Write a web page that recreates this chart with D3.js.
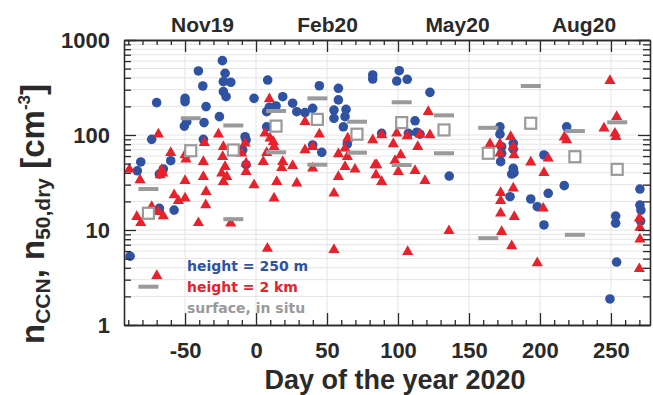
<!DOCTYPE html>
<html>
<head>
<meta charset="utf-8">
<script src="https://cdn.jsdelivr.net/npm/d3@7"></script>
<style>
  html, body { margin: 0; padding: 0; background: #fff; }
  svg { display: block; }
</style>
</head>
<body>
<svg id="chart" width="653" height="395"></svg>
<script>
// Daily values [day of year 2020, concentration cm^-3]
const height250m = [
  [-70,219],[-50,243],[-50,224],[-40.6,472],[-37.5,328],[-35.2,199],[-23.7,606],[-21.8,446],
  [-23,364],[-17.8,359],[-23,286],[-21.1,253],[-25.8,156],[-50.5,124],[-48.8,138],[-36.6,135],
  [-73.5,90],[-81.2,52],[-83.6,42],[-68.1,38.8],[-65.3,43.9],[-60.1,53.6],[-37.1,90],[-7.7,96],
  [-7,88.6],[-9.4,69.5],[-7,48.7],[-1.4,243],[8.2,379],[7.5,176],[9.4,196],[14.1,202],[7.5,122],
  [18.8,253],[25.8,216],[28.7,176],[34.5,172],[39.9,191],[44.6,330],[39.9,78.5],[46.3,65.7],
  [58,310],[58,234],[54.9,183],[54.9,150],[63.4,186],[62.7,156],[61.5,122],[64.3,80.4],
  [82.2,428],[82.2,388],[88.5,104],[100.9,475],[99.1,370],[106.5,386],[122.5,281],[112,141],
  [107.3,104],[113.2,107],[115.5,102],[136.1,37],[171.8,122],[171.8,102],[173,75.3],[173,64.2],
  [172.3,52.4],[181.2,81.8],[181.2,71.2],[181.2,44.6],[181.7,40.1],[180.1,38.8],[178.9,22.4],
  [193.5,21.2],[202.8,61.6],[205.8,24.3],[217.1,29.3],[218.8,122],[270.4,27],[198.1,17.6],
  [202.8,11.3],[253.3,14],[253.3,11.8],[254,4.6],[249.3,1.88],[270.4,18.3],[271.1,16.2],
  [270.9,12.4],[-68.1,16.9],[-57.7,16.2],[-88.7,5.3]
];
const height2km = [
  [-89.2,43.5],[-81.7,33.6],[-68.8,102],[-66.4,42.8],[-65.7,39.5],[-67.6,37.9],[-60.1,65.1],
  [-50,61.6],[-49.3,55.5],[-50,33],[-57.7,23.4],[-37.1,52.4],[-36.4,83],[-37.1,36.4],[-35.2,25.3],
  [-26.5,102],[-23,75.3],[-23.5,59.1],[-21.8,46.4],[-24.2,39.5],[-20.6,36.4],[-23,32.2],
  [-7.7,81.8],[-10.1,64.2],[-7,50.4],[-7,41.1],[-1.4,29.8],[9.4,239],[6.3,104],[9.9,92.3],
  [12.2,85],[12.7,75.3],[7.5,65.1],[5.1,52.4],[18.8,52.4],[18.1,45.3],[14.6,32.2],[12.7,21.6],
  [25.8,47.5],[28.7,31],[34.5,138],[34.5,69.5],[39.9,75.3],[44.6,102],[39.9,44.6],[54.9,24.3],
  [58,63.1],[58,36.4],[62.7,72.4],[64.6,92.3],[62.7,46.4],[64.3,59.1],[69.7,43.5],[82.2,88.6],
  [83.8,48.3],[85,48.3],[84.5,37.9],[88.5,32.2],[88.5,100],[-54.7,20.3],[-50,21.6],
  [-35.4,18.3],[-73.5,17.6],[-84,13.8],[-81.2,11.9],[-68.8,15.6],[-65.3,14],[-40.6,11.9],
  [-17.8,11.8],[8,6.4],[54.9,6.2],[-69.9,3.3],[96.7,80.4],[99.1,104],[106.5,97.6],[115.5,102],
  [113.9,75.3],[122.5,100],[121.3,176],[101.9,61.6],[97.9,53.6],[100.2,41.1],[112,42.1],
  [119,33],[164.8,80.4],[171.8,80.4],[171.8,64.2],[179.4,96],[181.2,75.3],[181.7,61.6],
  [193.5,51.6],[205.8,56.8],[202.8,40.1],[217.1,94.6],[218.8,88.6],[172.3,24.7],[181.2,27.5],
  [249.3,373],[254,156],[245.1,118],[252.8,104],[253.5,96],[172.3,20.3],[172.3,15],
  [181.9,13.8],[202.3,16.9],[173,9.6],[180.1,6.8],[135.9,9.8],[106.8,5.9],[198.1,4.5],
  [270,13.3],[270.4,10.6],[270.4,8],[270,3.9]
];
// Surface in-situ: monthly range bounds and monthly central values
const surfaceRange = [
  [-75.8,27],[-75.8,2.53],[-46,150],[-16,126],[-16,13],[14.1,179],[14.1,65.7],[43.2,243],
  [43.2,48.7],[71.1,138],[71.1,65.1],[102.6,221],[102.6,48.3],[132.4,161],[132.4,64.2],
  [163.6,119],[163.6,8.2],[193.5,328],[224.6,110],[224.6,8.9],[254.4,136]
];
const surfaceMonthly = [
  [-75.8,15],[-46,68.3],[-16,69.5],[14.1,124],[43.2,146],[71.1,102],[102.6,135],[132.4,113],
  [163.6,64.2],[193.5,133],[224.6,59.1],[254.4,43.5]
];
const xTickValues = [-50, 0, 50, 100, 150, 200, 250];
const yTickValues = [1, 10, 100, 1000];
const monthLabels = [["Nov19",-37.7],["Feb20",50.4],["May20",141.9],["Aug20",231]];
const legendItems = [
  ["height = 250 m", "#2f52a3"],
  ["height = 2 km", "#e8212b"],
  ["surface, in situ", "#9a9a9a"]
];

const svg = d3.select("#chart");
const x = d3.scaleLinear().domain([-93, 277.5]).range([124, 650]);
const y = d3.scaleLog().domain([1, 1000]).range([325, 40]);
const [x0, x1] = x.range();
const [yB, yT] = y.range();

const minorX = d3.range(-90, 278, 10).filter(d => d % 50 !== 0);
const minorY = [];
[1, 10, 100].forEach(dec => { for (let k = 2; k <= 9; k++) minorY.push(dec * k); });

const axisFont = "'Liberation Sans', Arial, Helvetica, sans-serif";
const ink = "#2a2a2a";

// grid
const grid = svg.append("g").attr("stroke", "#e4e4e4").attr("stroke-width", 1);
grid.selectAll("line.h").data(minorY.concat(yTickValues)).join("line")
  .attr("x1", x0).attr("x2", x1).attr("y1", d => y(d)).attr("y2", d => y(d));
grid.selectAll("line.v").data(xTickValues).join("line")
  .attr("y1", yT).attr("y2", yB).attr("x1", d => x(d)).attr("x2", d => x(d));

// markers
svg.append("g").selectAll("circle").data(height250m).join("circle")
  .attr("cx", d => x(d[0])).attr("cy", d => y(d[1])).attr("r", 4.8)
  .attr("fill", "#2f52a3");

const tri = d3.symbol().type(d3.symbolTriangle).size(54);
svg.append("g").selectAll("path").data(height2km).join("path")
  .attr("d", tri)
  .attr("transform", d => `translate(${x(d[0])},${y(d[1])})`)
  .attr("fill", "#e8212b");

svg.append("g").selectAll("rect").data(surfaceRange).join("rect")
  .attr("x", d => x(d[0]) - 10).attr("y", d => y(d[1]) - 2)
  .attr("width", 20).attr("height", 4).attr("fill", "#9a9a9a");

svg.append("g").selectAll("rect").data(surfaceMonthly).join("rect")
  .attr("x", d => x(d[0]) - 5.5).attr("y", d => y(d[1]) - 5.5)
  .attr("width", 11).attr("height", 11)
  .attr("fill", "#fff").attr("stroke", "#9a9a9a").attr("stroke-width", 2.2);

// axes (ticks point inward on all four sides)
function styleAxis(g) {
  g.selectAll("path, line").attr("stroke", ink).attr("stroke-width", 1.3);
}
function addAxis(axisFn, scale, tf, vals, size, labels) {
  const a = axisFn(scale).tickValues(vals).tickSize(-size).tickSizeOuter(0);
  if (!labels) a.tickFormat("");
  return svg.append("g").attr("transform", tf).call(a).call(styleAxis);
}
// bottom
addAxis(d3.axisBottom, x, `translate(0,${yB})`, minorX, 5, false);
const gb = addAxis(d3.axisBottom, x, `translate(0,${yB})`, xTickValues, 12, true);
gb.selectAll("text").text(d => String(d)).attr("y", 33).attr("dy", null)
  .attr("font-family", axisFont).attr("font-weight", "bold").attr("font-size", 22).attr("fill", ink);
// top
addAxis(d3.axisTop, x, `translate(0,${yT})`, minorX, 5, false);
addAxis(d3.axisTop, x, `translate(0,${yT})`, xTickValues, 12, false);
// left
addAxis(d3.axisLeft, y, `translate(${x0},0)`, minorY, 7, false);
const gl = addAxis(d3.axisLeft, y, `translate(${x0},0)`, yTickValues, 12, true);
gl.selectAll("text").text(d => String(d)).attr("x", -14).attr("dy", "0.34em")
  .attr("font-family", axisFont).attr("font-weight", "bold").attr("font-size", 22).attr("fill", ink);
// right
addAxis(d3.axisRight, y, `translate(${x1},0)`, minorY, 7, false);
addAxis(d3.axisRight, y, `translate(${x1},0)`, yTickValues, 12, false);
svg.selectAll(".domain").attr("stroke", ink);

// month labels along the top
svg.append("g").selectAll("text").data(monthLabels).join("text")
  .attr("x", d => x(d[1])).attr("y", 32).attr("text-anchor", "middle")
  .attr("font-family", axisFont).attr("font-weight", "bold").attr("font-size", 21)
  .attr("fill", ink).text(d => d[0]);

// axis titles
svg.append("text").attr("x", 395).attr("y", 389).attr("text-anchor", "middle")
  .attr("font-family", axisFont).attr("font-weight", "bold").attr("font-size", 27)
  .attr("fill", ink).text("Day of the year 2020");

const yt = svg.append("text")
  .attr("transform", "translate(44,214) rotate(-90)")
  .attr("text-anchor", "middle")
  .attr("font-family", axisFont).attr("font-weight", "bold").attr("font-size", 33)
  .attr("fill", ink);
yt.append("tspan").text("n");
yt.append("tspan").attr("font-size", 21).attr("dy", 6).text("CCN");
yt.append("tspan").attr("dy", -6).text(", n");
yt.append("tspan").attr("font-size", 21).attr("dy", 6).text("50,dry");
yt.append("tspan").attr("dy", -6).text(" [cm");
yt.append("tspan").attr("font-size", 17).attr("dy", -14).text("-3");
yt.append("tspan").attr("dy", 14).text("]");

// legend
svg.append("g").selectAll("text").data(legendItems).join("text")
  .attr("x", 187).attr("y", (d, i) => 270.5 + i * 21)
  .attr("font-family", "'DejaVu Sans', Verdana, sans-serif").attr("font-weight", "bold")
  .attr("font-size", 14).attr("fill", d => d[1]).text(d => d[0]);
</script>
</body>
</html>
